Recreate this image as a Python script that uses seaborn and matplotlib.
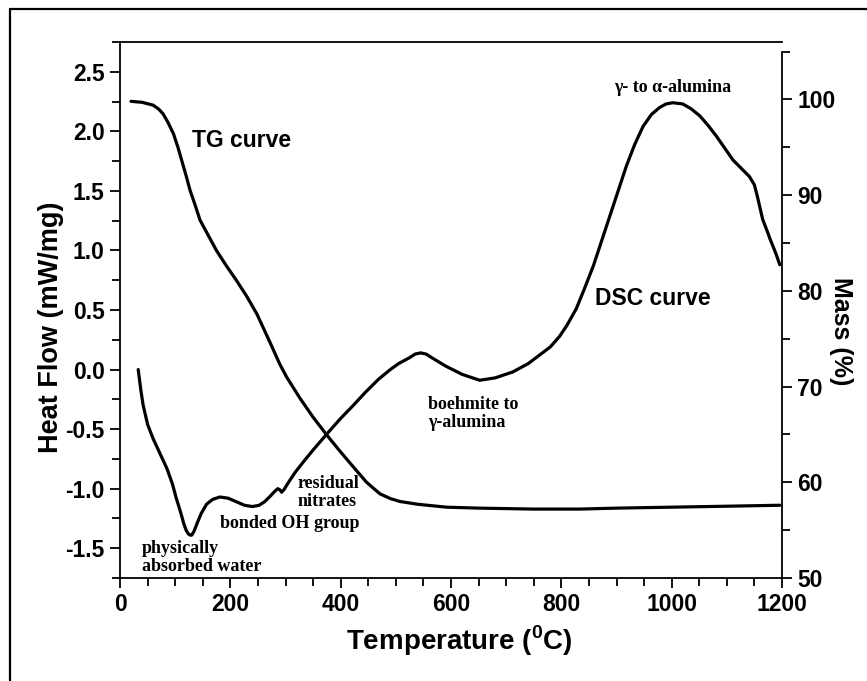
import matplotlib
matplotlib.use("Agg")
import matplotlib.pyplot as plt
import seaborn as sns
import pandas as pd
from matplotlib.lines import Line2D
from matplotlib.ticker import MultipleLocator, FormatStrFormatter

# DSC heat-flow trace (left axis)
dsc_temp = [33, 38, 42, 50, 60, 72, 85, 95, 102, 110, 116, 120, 124, 127, 130, 134, 139,
            147, 157, 168, 181, 196, 211, 226, 240, 252, 262, 273, 281, 286, 290, 293,
            297, 305, 318, 335, 351, 377, 400, 423, 445, 469, 490, 505, 525, 535, 545,
            555, 565, 590, 620, 652, 680, 712, 740, 760, 780, 797, 810, 827, 842, 858,
            873, 888, 903, 918, 933, 948, 963, 978, 990, 1002, 1020, 1035, 1051, 1066,
            1081, 1096, 1111, 1126, 1141, 1150, 1155, 1160, 1165, 1170, 1175, 1178, 1185,
            1190, 1196]
dsc_heat = [0.00, -0.18, -0.30, -0.46, -0.58, -0.70, -0.83, -0.96, -1.08, -1.20, -1.30,
            -1.35, -1.38, -1.39, -1.39, -1.36, -1.30, -1.21, -1.13, -1.09, -1.07, -1.08,
            -1.11, -1.14, -1.15, -1.14, -1.11, -1.06, -1.02, -1.00, -1.01, -1.03, -1.01,
            -0.95, -0.86, -0.76, -0.67, -0.53, -0.41, -0.30, -0.19, -0.08, 0.00, 0.05,
            0.10, 0.13, 0.14, 0.13, 0.10, 0.03, -0.04, -0.09, -0.07, -0.02, 0.05, 0.12,
            0.19, 0.28, 0.37, 0.51, 0.68, 0.87, 1.08, 1.29, 1.50, 1.71, 1.89, 2.04, 2.14,
            2.20, 2.23, 2.24, 2.23, 2.19, 2.13, 2.05, 1.96, 1.86, 1.76, 1.69, 1.62, 1.55,
            1.46, 1.36, 1.26, 1.20, 1.14, 1.10, 1.02, 0.96, 0.88]

# TG mass-loss trace (right axis)
tg_temp = [20, 40, 60, 70, 78, 87, 97, 105, 112, 120, 127, 136, 145, 160, 175, 193, 211,
           230, 248, 260, 272, 290, 302, 326, 350, 374, 398, 423, 447, 471, 490, 507,
           540, 592, 650, 750, 833, 900, 1000, 1100, 1196]
tg_mass = [99.8, 99.7, 99.4, 99.0, 98.5, 97.6, 96.4, 95.0, 93.6, 92.0, 90.5, 89.0, 87.4,
           85.8, 84.2, 82.6, 81.1, 79.4, 77.6, 76.1, 74.6, 72.3, 71.0, 68.8, 66.8, 65.0,
           63.3, 61.6, 60.0, 58.8, 58.3, 58.0, 57.7, 57.4, 57.3, 57.2, 57.2, 57.3, 57.4,
           57.5, 57.6]

x_ticks = [0, 200, 400, 600, 800, 1000, 1200]
heat_ticks = [-1.5, -1.0, -0.5, 0.0, 0.5, 1.0, 1.5, 2.0, 2.5]
mass_ticks = [50, 60, 70, 80, 90, 100]

sns.set_style("ticks")
plt.rcParams["font.family"] = ["Liberation Sans", "DejaVu Sans"]
plt.rcParams["font.weight"] = "bold"
plt.rcParams["axes.labelweight"] = "bold"
plt.rcParams["text.color"] = "black"
plt.rcParams["axes.labelcolor"] = "black"
plt.rcParams["axes.unicode_minus"] = False
plt.rcParams["mathtext.fontset"] = "custom"
plt.rcParams["mathtext.rm"] = "Liberation Sans:bold"
plt.rcParams["mathtext.bf"] = "Liberation Sans:bold"

fig = plt.figure(figsize=(8.67, 6.81), dpi=100)
ax = fig.add_axes([120 / 867, 103 / 681, 662 / 867, 536 / 681])
ax2 = ax.twinx()

dsc = pd.DataFrame({"T": dsc_temp, "hf": dsc_heat})
tg = pd.DataFrame({"T": tg_temp, "m": tg_mass})
sns.lineplot(data=dsc, x="T", y="hf", ax=ax, color="black", lw=2.3,
             estimator=None, sort=False)
sns.lineplot(data=tg, x="T", y="m", ax=ax2, color="black", lw=2.3,
             estimator=None, sort=False)

ax.set_xlim(0, 1200)
ax.set_ylim(-1.75, 2.75)
ax2.set_ylim(50, 106)

ax.set_xticks(x_ticks)
ax.set_yticks(heat_ticks)
ax2.set_yticks(mass_ticks)
ax.xaxis.set_minor_locator(MultipleLocator(50))
ax.yaxis.set_minor_locator(MultipleLocator(0.25))
ax2.yaxis.set_minor_locator(MultipleLocator(5))
ax.yaxis.set_major_formatter(FormatStrFormatter("%.1f"))

for a in (ax, ax2):
    for s in a.spines.values():
        s.set_linewidth(1.3)
        s.set_color("black")
ax.spines["right"].set_visible(False)
for side in ("top", "left", "bottom"):
    ax2.spines[side].set_visible(False)
ax2.spines["right"].set_bounds(50, 105)

ax.tick_params(axis="both", which="major", direction="out", length=7, width=1.3,
               labelsize=16.5, colors="black", pad=4)
ax.tick_params(axis="both", which="minor", direction="out", length=6, width=1.3,
               colors="black")
ax2.tick_params(axis="y", which="major", direction="out", length=7, width=1.3,
                labelsize=16.5, colors="black", pad=4)
ax2.tick_params(axis="y", which="minor", direction="out", length=6, width=1.3,
                colors="black")

ax.set_xlabel(r"Temperature ($^{\mathbf{0}}$C)", fontsize=20)
ax.xaxis.set_label_coords(0.512, -0.085)
ax.set_ylabel("Heat Flow (mW/mg)", fontsize=19.5, va="center")
ax.yaxis.set_label_coords(-0.104, 0.468)
ax2.set_ylabel("Mass (%)", fontsize=18, rotation=270, va="center")
ax2.yaxis.set_label_coords(1.089, 0.461)

serif = dict(family=["Liberation Serif", "DejaVu Serif"], fontweight="bold",
             fontsize=13, color="black", linespacing=1.1)
ax.text(1002, 2.37, "γ- to α-alumina", ha="center", va="center", **serif)
ax.text(558, -0.37, "boehmite to\nγ-alumina", ha="left", va="center", **serif)
ax.text(321, -1.03, "residual\nnitrates", ha="left", va="center", **serif)
ax.text(181, -1.29, "bonded OH group", ha="left", va="center", **serif)
ax.text(40, -1.575, "physically\nabsorbed water", ha="left", va="center", **serif)
ax.text(130, 1.92, "TG curve", ha="left", va="center", fontsize=16.5, fontweight="bold")
ax.text(861, 0.60, "DSC curve", ha="left", va="center", fontsize=16.5, fontweight="bold")

# outer frame (top and left edges)
fig.add_artist(Line2D([10 / 867, 1.0], [1 - 9 / 681, 1 - 9 / 681],
                      transform=fig.transFigure, color="black", lw=1.6))
fig.add_artist(Line2D([10 / 867, 10 / 867], [0.0, 1 - 9 / 681],
                      transform=fig.transFigure, color="black", lw=1.6))

fig.savefig("out.png", dpi=100, facecolor="white")
